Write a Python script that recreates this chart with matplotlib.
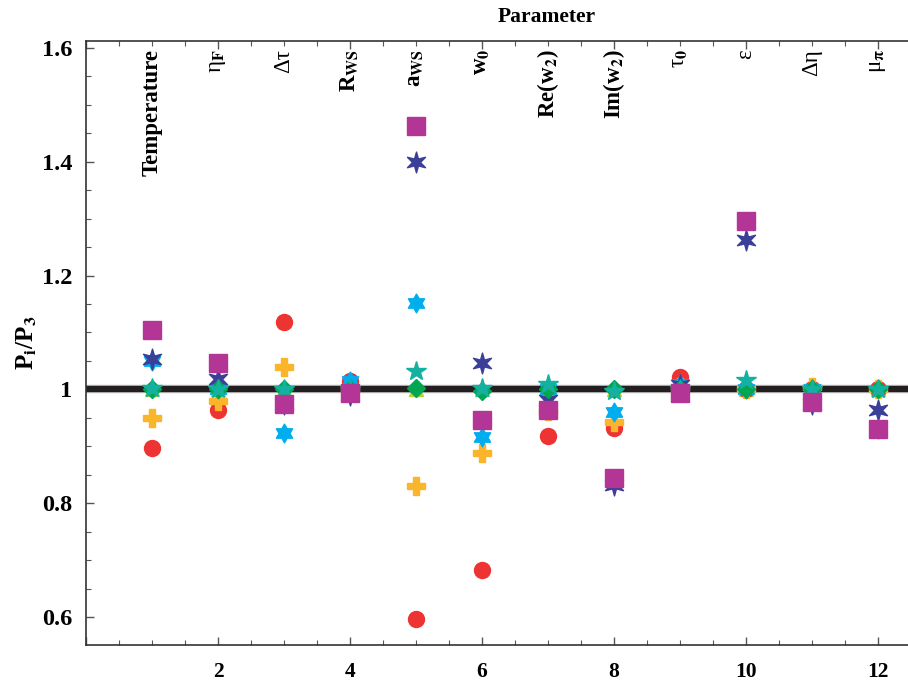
import matplotlib
matplotlib.use("Agg")
import matplotlib.pyplot as plt
import matplotlib.patheffects as pe
from matplotlib.path import Path
from matplotlib.ticker import MultipleLocator
import numpy as np

plt.rcParams['font.family'] = ['Liberation Serif', 'DejaVu Serif']
plt.rcParams['font.weight'] = 'bold'
plt.rcParams['mathtext.fontset'] = 'stix'

params = np.arange(1, 13)
param_labels = ['Temperature', r'η$_{\rm F}$', 'Δτ', r'R$_{\rm WS}$',
                r'a$_{\rm WS}$', r'w$_0$', r'Re(w$_2$)', r'Im(w$_2$)',
                r'τ$_0$', 'ε', 'Δη', r'μ$_{\rm π}$']
label_weights = ['bold', 'normal', 'normal', 'bold', 'bold', 'bold', 'bold', 'bold',
                 'normal', 'normal', 'normal', 'normal']

tri_vals = [1.0, 1.0, 1.0, 1.0, 1.0, 1.0, 1.0, 1.0, 1.0, 1.0, 1.0, 1.0]
circle_vals = [0.897, 0.963, 1.119, 1.014, 0.596, 0.683, 0.918, 0.932, 1.021, 1.0, 1.0, 1.0]
plus_vals = [0.949, 0.979, 1.040, 1.0, 0.831, 0.888, 0.962, 0.942, 1.005, 1.0, 1.004, 1.0]
hex_vals = [1.05, 1.0, 0.924, 1.014, 1.151, 0.916, 1.0, 0.960, 1.01, 1.0, 1.0, 0.93]
navy_vals = [1.053, 1.019, 0.975, 0.99, 1.399, 1.046, 0.981, 0.832, 1.008, 1.262, 0.975, 0.963]
diamond_vals = [1.0, 1.0, 1.0, 1.0, 1.002, 0.998, 1.0, 1.0, 1.0, 1.0, 1.0, 1.0]
teal_vals = [1.002, 1.0, 1.0, 1.0, 1.033, 1.003, 1.01, 0.998, 1.0, 1.016, 1.0, 1.0]
square_vals = [1.105, 1.046, 0.975, 0.993, 1.463, 0.946, 0.963, 0.844, 0.993, 1.295, 0.977, 0.930]


def star_path(n, inner):
    ang = np.pi / 2 + np.arange(2 * n) * np.pi / n
    r = np.where(np.arange(2 * n) % 2 == 0, 1.0, inner)
    verts = np.column_stack([r * np.cos(ang), r * np.sin(ang)])
    verts = np.vstack([verts, verts[:1]])
    codes = [Path.MOVETO] + [Path.LINETO] * (2 * n - 1) + [Path.CLOSEPOLY]
    return Path(verts, codes)


asterisk = star_path(6, 0.38)
hexagram = star_path(6, 0.577)

fig = plt.figure(figsize=(9.08, 6.82), dpi=100)
ax = fig.add_axes([86 / 908, 1 - 645 / 682, 1 - 86 / 908, (645 - 41) / 682])

ax.axhline(1.0, color='#231f20', lw=4.4, zorder=2,
           path_effects=[pe.Stroke(linewidth=6.0, foreground='#b0b0b0'), pe.Normal()])

ax.plot(params, tri_vals, '^', ms=10, color='#b5d334', ls='none', zorder=3)
ax.plot(params, circle_vals, 'o', ms=11.5, color='#ee3333', ls='none', zorder=4)
ax.plot(params, plus_vals, 'P', ms=12.5, color='#fbb52b', ls='none', zorder=5)
ax.plot(params, hex_vals, marker=hexagram, ms=13.5, color='#00aeef', ls='none', zorder=6)
ax.plot(params, navy_vals, marker=asterisk, ms=15, color='#3b3f98', ls='none', zorder=7)
ax.plot(params, diamond_vals, 'D', ms=9, color='#00a651', ls='none', zorder=8)
ax.plot(params, teal_vals, '*', ms=15, color='#14b1a0', ls='none', zorder=9)
ax.plot(params, square_vals, 's', ms=12.3, color='#b33596', ls='none', zorder=10)

ax.set_xlim(0, 12.46)
ax.set_ylim(0.551, 1.612)

ax.xaxis.set_major_locator(MultipleLocator(2))
ax.xaxis.set_minor_locator(MultipleLocator(0.5))
ax.yaxis.set_major_locator(MultipleLocator(0.2))
ax.yaxis.set_minor_locator(MultipleLocator(0.05))
ax.tick_params(which='both', direction='in', top=True, labeltop=False, color='#555555')
ax.tick_params(which='major', length=6, width=1)
ax.tick_params(which='minor', length=3.5, width=0.8)
ax.tick_params(axis='x', labelsize=15.5, pad=12)
ax.tick_params(axis='y', labelsize=17.5, pad=10)
ax.xaxis.set_major_formatter(plt.FuncFormatter(lambda v, p: '' if v == 0 else f"{v:g}"))
ax.yaxis.set_major_formatter(plt.FuncFormatter(lambda v, p: f"{v:g}"))

for s in ['left', 'bottom', 'top']:
    ax.spines[s].set_color('#333333')
    ax.spines[s].set_linewidth(1.2)
ax.spines['right'].set_visible(False)

for x, lab, w in zip(params, param_labels, label_weights):
    ax.text(x, 1.598, lab, rotation=90, ha='center', va='top', fontsize=16.5,
            fontweight=w)

fig.text(547 / 908, 1 - 17 / 682, 'Parameter', ha='center', va='center', fontsize=15.5,
         fontweight='bold')
ax.set_ylabel(r'P$_{\rm i}$/P$_3$', fontsize=18, fontweight='bold', labelpad=2)

fig.savefig('out.png', dpi=100)
